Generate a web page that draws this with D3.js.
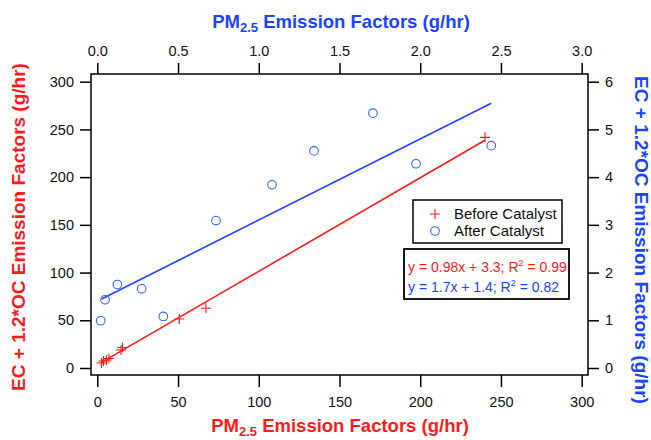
<!DOCTYPE html>
<html>
<head>
<meta charset="utf-8">
<script src="https://cdn.jsdelivr.net/npm/d3@7"></script>
<style>
  body { margin: 0; background: #fff; }
  svg text { font-family: "Liberation Sans", Arial, sans-serif; }
</style>
</head>
<body>
<div id="chart"></div>
<script>
// ---- data ----
// Before catalyst: bottom axis (g/hr) vs left axis (g/hr)
const beforeX = [2.6, 3.8, 5.7, 7.2, 14.7, 15.6, 50.8, 67.3, 240.1];
const beforeY = [5.2, 7.3, 8.4, 10.0, 18.9, 21.5, 51.3, 62.6, 241.7];
// After catalyst: top axis (g/hr) vs right axis (g/hr)
const afterX = [0.021, 0.048, 0.124, 0.275, 0.409, 0.735, 1.082, 1.342, 1.707, 1.974, 2.44];
const afterY = [0.99, 1.43, 1.75, 1.66, 1.08, 3.09, 3.84, 4.55, 5.34, 4.28, 4.66];
// linear fits: [slope, intercept] and x extent of the drawn line
const beforeFit = [0.98, 3.3];
const beforeFitX = [2.6, 240.1];
const afterFit = [1.7, 1.4];
const afterFitX = [0.027, 2.44];

const bottomTicks = [0, 50, 100, 150, 200, 250, 300];
const topTicks = [0, 0.5, 1.0, 1.5, 2.0, 2.5, 3.0];
const leftTicks = [0, 50, 100, 150, 200, 250, 300];
const rightTicks = [0, 1, 2, 3, 4, 5, 6];

const legendLabels = ['Before Catalyst', 'After Catalyst'];
const fitLabels = [
  { pre: 'y = 0.98x + 3.3; R', post: ' = 0.99' },
  { pre: 'y = 1.7x + 1.4; R', post: ' = 0.82' }
];

// ---- layout ----
const W = 651, H = 440;
const frame = { left: 91, right: 588, top: 74, bottom: 375 };
const RED = '#ff1a1a';
const BLUE = '#1a45ff';
const BLUE_PT = '#3a66ff';

const svg = d3.select('#chart').append('svg')
  .attr('width', W).attr('height', H);

const xB = d3.scaleLinear().domain([0, 300]).range([97.3, 581.7]);
const xT = d3.scaleLinear().domain([0, 3]).range([97.3, 581.7]);
const yL = d3.scaleLinear().domain([0, 300]).range([368, 81.7]);
const yR = d3.scaleLinear().domain([0, 6]).range([368, 81.7]);

// axes
function styleAxis(g) {
  g.select('.domain').remove();
  g.selectAll('.tick line').attr('stroke', '#000').attr('stroke-width', 1.5);
  g.selectAll('.tick text').attr('fill', '#111').style('font-size', '14.5px')
    .style('font-family', '"Liberation Sans", Arial, sans-serif');
}

svg.append('g')
  .attr('transform', `translate(0,${frame.bottom})`)
  .call(d3.axisBottom(xB).tickValues(bottomTicks).tickSize(12).tickPadding(9.5).tickFormat(d3.format('d')))
  .call(styleAxis);

svg.append('g')
  .attr('transform', `translate(0,${frame.top})`)
  .call(d3.axisTop(xT).tickValues(topTicks).tickSize(11).tickPadding(7).tickFormat(d3.format('.1f')))
  .call(styleAxis);

svg.append('g')
  .attr('transform', `translate(${frame.left},0)`)
  .call(d3.axisLeft(yL).tickValues(leftTicks).tickSize(11).tickPadding(6).tickFormat(d3.format('d')))
  .call(styleAxis);

svg.append('g')
  .attr('transform', `translate(${frame.right},0)`)
  .call(d3.axisRight(yR).tickValues(rightTicks).tickSize(11).tickPadding(6).tickFormat(d3.format('d')))
  .call(styleAxis);

// frame
svg.append('rect')
  .attr('x', frame.left).attr('y', frame.top)
  .attr('width', frame.right - frame.left).attr('height', frame.bottom - frame.top)
  .attr('fill', 'none').attr('stroke', '#000').attr('stroke-width', 1.5);

// fit lines
svg.append('line')
  .attr('x1', xB(beforeFitX[0])).attr('y1', yL(beforeFit[0] * beforeFitX[0] + beforeFit[1]))
  .attr('x2', xB(beforeFitX[1])).attr('y2', yL(beforeFit[0] * beforeFitX[1] + beforeFit[1]))
  .attr('stroke', RED).attr('stroke-width', 1.6);

svg.append('line')
  .attr('x1', xT(afterFitX[0])).attr('y1', yR(afterFit[0] * afterFitX[0] + afterFit[1]))
  .attr('x2', xT(afterFitX[1])).attr('y2', yR(afterFit[0] * afterFitX[1] + afterFit[1]))
  .attr('stroke', BLUE).attr('stroke-width', 1.6);

// markers
function drawPlus(g, x, y, color) {
  g.append('path')
    .attr('d', `M${x - 5},${y}H${x + 5}M${x},${y - 5}V${y + 5}`)
    .attr('stroke', color).attr('stroke-width', 1.1).attr('fill', 'none');
}

const ptsB = svg.append('g');
beforeX.forEach((v, i) => drawPlus(ptsB, xB(v), yL(beforeY[i]), RED));

svg.append('g').selectAll('circle')
  .data(afterX.map((v, i) => [v, afterY[i]]))
  .join('circle')
  .attr('cx', d => xT(d[0])).attr('cy', d => yR(d[1]))
  .attr('r', 4.3)
  .attr('fill', 'none').attr('stroke', BLUE_PT).attr('stroke-width', 1.1);

// legend
const leg = svg.append('g');
leg.append('rect').attr('x', 413).attr('y', 200).attr('width', 149).attr('height', 43)
  .attr('fill', '#fff').attr('stroke', '#000').attr('stroke-width', 1.5);
drawPlus(leg, 435, 214, RED);
leg.append('circle').attr('cx', 435).attr('cy', 231).attr('r', 4.3)
  .attr('fill', 'none').attr('stroke', BLUE_PT).attr('stroke-width', 1.1);
legendLabels.forEach((t, i) => {
  leg.append('text').attr('x', 454).attr('y', 219 + i * 17)
    .style('font-size', '15px').attr('fill', '#111').text(t);
});

// fit equations box
const eq = svg.append('g');
eq.append('rect').attr('x', 404).attr('y', 249).attr('width', 165).attr('height', 50)
  .attr('fill', '#fff').attr('stroke', '#000').attr('stroke-width', 1.8);
fitLabels.forEach((f, i) => {
  const t = eq.append('text').attr('x', 408).attr('y', 272 + i * 20)
    .style('font-size', '14px').attr('fill', i === 0 ? RED : BLUE);
  t.append('tspan').text(f.pre);
  t.append('tspan').attr('dy', -6).style('font-size', '9px').text('2');
  t.append('tspan').attr('dy', 6).text(f.post);
});

// axis titles
function pmTitle(sel) {
  sel.append('tspan').text('PM');
  sel.append('tspan').attr('dy', 4).style('font-size', '13px').text('2.5');
  sel.append('tspan').attr('dy', -4).text(' Emission Factors (g/hr)');
}

svg.append('text').attr('x', 340).attr('y', 432).attr('text-anchor', 'middle')
  .style('font-size', '18.5px').style('font-weight', 'bold').attr('fill', RED)
  .call(pmTitle);

svg.append('text').attr('x', 341).attr('y', 28).attr('text-anchor', 'middle')
  .style('font-size', '18.5px').style('font-weight', 'bold').attr('fill', BLUE)
  .call(pmTitle);

svg.append('text')
  .attr('transform', 'translate(25,227) rotate(-90)')
  .attr('text-anchor', 'middle')
  .style('font-size', '19px').style('font-weight', 'bold').attr('fill', RED)
  .text('EC + 1.2*OC Emission Factors (g/hr)');

svg.append('text')
  .attr('transform', 'translate(635,240) rotate(90)')
  .attr('text-anchor', 'middle')
  .style('font-size', '19px').style('font-weight', 'bold').attr('fill', BLUE)
  .text('EC + 1.2*OC Emission Factors (g/hr)');
</script>
</body>
</html>
